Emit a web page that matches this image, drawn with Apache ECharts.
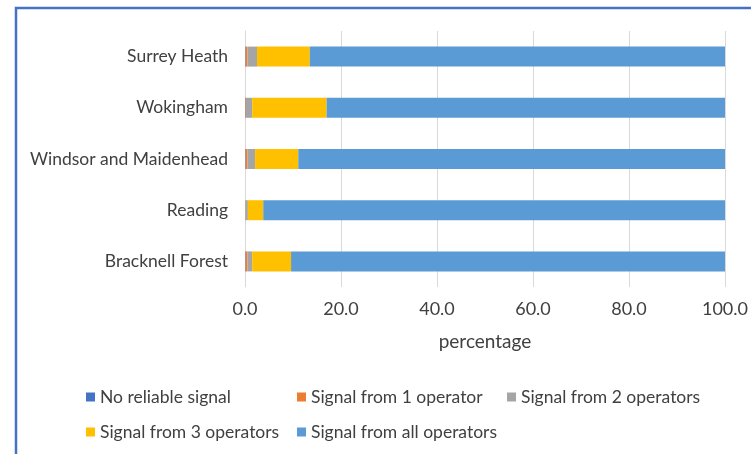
<!DOCTYPE html>
<html>
<head>
<meta charset="utf-8">
<script src="https://cdn.jsdelivr.net/npm/echarts@6/dist/echarts.min.js"></script>
<style>
  html, body { margin: 0; padding: 0; background: #fff; }
  #chart { width: 751px; height: 454px; }
</style>
</head>
<body>
<div id="chart"></div>
<script>
// bottom to top, as the category axis draws them
const areas = ['Bracknell Forest', 'Reading', 'Windsor and Maidenhead', 'Wokingham', 'Surrey Heath'];

const noSignal   = [0.1, 0.0, 0.1, 0.1, 0.1];
const oneOp      = [0.4, 0.1, 0.4, 0.1, 0.4];
const twoOps     = [1.0, 0.5, 1.6, 1.3, 2.0];
const threeOps   = [8.1, 3.2, 9.0, 15.5, 11.0];
const allOps     = [90.4, 96.2, 88.9, 83.0, 86.5];

const seriesNames = [
  'No reliable signal',
  'Signal from 1 operator',
  'Signal from 2 operators',
  'Signal from 3 operators',
  'Signal from all operators'
];
const xTicks = [0, 20, 40, 60, 80, 100];

const colors = ['#4472C4', '#ED7D31', '#A5A5A5', '#FFC000', '#5B9BD5'];
const FONT = 'Lato';
const TXT = '#404040';

const chart = echarts.init(document.getElementById('chart'));

const values = [noSignal, oneOp, twoOps, threeOps, allOps];
const series = seriesNames.map((name, i) => ({
  name,
  type: 'bar',
  stack: 'total',
  barWidth: 20,
  itemStyle: { color: colors[i] },
  data: values[i]
}));

// one legend per entry so they sit in Excel's column grid
const legendPos = [
  { left: 86, top: 388 }, { left: 297, top: 388 }, { left: 507, top: 388 },
  { left: 86, top: 423 }, { left: 297, top: 423 }
];
const legends = seriesNames.map((name, i) => ({
  data: [name],
  left: legendPos[i].left,
  top: legendPos[i].top,
  padding: 0,
  itemWidth: 9,
  itemHeight: 9,
  icon: 'rect',
  selectedMode: false,
  textStyle: { fontFamily: FONT, fontSize: 17.5, color: TXT }
}));

chart.setOption({
  animation: false,
  textStyle: { fontFamily: FONT },
  graphic: [{
    type: 'polyline',
    shape: { points: [[16, 454], [16, 8], [751, 8]] },
    style: { stroke: '#4472C4', lineWidth: 2.5, fill: null }
  }],
  legend: legends,
  grid: { left: 245, right: 26, top: 31, bottom: 167 },
  xAxis: {
    type: 'value',
    min: 0,
    max: 100,
    interval: 20,
    axisLine: { show: false },
    axisTick: { show: false },
    splitLine: { lineStyle: { color: '#D9D9D9', width: 1 } },
    axisLabel: {
      margin: 13,
      fontFamily: FONT,
      fontSize: 18,
      color: TXT,
      formatter: v => xTicks.includes(v) ? v.toFixed(1) : ''
    },
    name: 'percentage',
    nameLocation: 'middle',
    nameGap: 45,
    nameTextStyle: { fontFamily: FONT, fontSize: 19, color: TXT }
  },
  yAxis: {
    type: 'category',
    data: areas,
    axisLine: { lineStyle: { color: '#D9D9D9' } },
    axisTick: { show: false },
    axisLabel: { margin: 17, fontFamily: FONT, fontSize: 17.5, color: TXT }
  },
  series
});
</script>
</body>
</html>
